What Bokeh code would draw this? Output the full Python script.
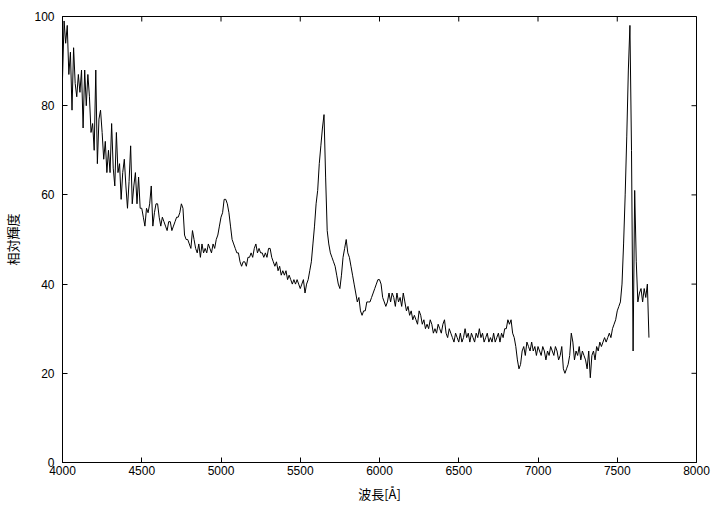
import math
from bokeh.plotting import figure
from bokeh.models import FixedTicker, LinearAxis, Range1d
from bokeh.embed import file_html
from bokeh.resources import INLINE

# --- data ---
wl_start = 4000
wl_step = 10
intensity = [
    86, 99, 94, 98, 87, 92, 79, 93, 85, 82,   # 4000
    87, 83, 88, 75, 88, 80, 87, 82, 74, 76,   # 4100
    70, 88, 67, 77, 79, 74, 68, 72, 65, 70,   # 4200
    65, 76, 66, 62, 74, 65, 67, 59, 65, 68,   # 4300
    62, 57, 63, 71, 58, 62, 65, 58, 64, 57,   # 4400
    57, 55, 53, 57, 56, 58, 62, 53, 56, 58,   # 4500
    58, 55, 53, 55, 54, 53, 52, 54, 54, 52,   # 4600
    53, 54, 55, 55, 56, 58, 57, 51, 50, 50,   # 4700
    49, 48, 52, 50, 48, 47, 49, 46, 49, 47,   # 4800
    48, 47, 49, 48, 47, 49, 48, 50, 51, 53,   # 4900
    55, 56, 59, 59, 58, 56, 53, 50, 49, 48,   # 5000
    47, 47, 45, 44, 45, 45, 44, 46, 46, 47,   # 5100
    46, 48, 49, 47, 48, 47, 47, 46, 47, 46,   # 5200
    48, 48, 46, 45, 44, 45, 43, 44, 42, 43,   # 5300
    42, 43, 41, 42, 41, 40, 41, 40, 41, 40,   # 5400
    39, 40, 41, 38, 40, 41, 43, 45, 49, 53,   # 5500
    58, 61, 67, 71, 75, 78, 64, 52, 49, 47,   # 5600
    46, 45, 44, 42, 40, 39, 42, 46, 48, 50,   # 5700
    47, 46, 44, 42, 40, 38, 36, 37, 34, 33,   # 5800
    34, 34, 36, 36, 36, 37, 38, 39, 40, 41,   # 5900
    41, 40, 37, 36, 35, 36, 38, 36, 38, 37,   # 6000
    35, 38, 36, 37, 35, 38, 36, 34, 35, 33,   # 6100
    34, 32, 33, 32, 31, 34, 33, 31, 32, 30,   # 6200
    31, 30, 32, 31, 29, 30, 29, 31, 30, 29,   # 6300
    31, 32, 29, 28, 30, 29, 28, 27, 29, 28,   # 6400
    27, 29, 27, 28, 30, 28, 29, 27, 29, 28,   # 6500
    27, 29, 28, 30, 28, 29, 27, 28, 29, 27,   # 6600
    28, 27, 29, 27, 28, 29, 27, 29, 28, 30,   # 6700
    30, 32, 31, 32, 29, 28, 26, 23, 21, 22,   # 6800
    25, 26, 24, 27, 26, 25, 27, 25, 26, 24,   # 6900
    26, 25, 24, 26, 25, 23, 25, 24, 26, 25,   # 7000
    24, 26, 25, 23, 24, 26, 21, 20, 21, 22,   # 7100
    24, 29, 27, 23, 25, 24, 26, 23, 25, 24,   # 7200
    23, 21, 25, 19, 24, 25, 23, 26, 25, 27,   # 7300
    26, 27, 28, 27, 28, 29, 28, 30, 31, 32,   # 7400
    34, 35, 36, 40, 49, 60, 73, 88, 98, 70,   # 7500
    25, 61, 45, 36, 38, 39, 36, 39, 37, 40,   # 7600
    28,                                       # 7700
]
wavelength = [wl_start + i * wl_step for i in range(len(intensity))]

x_min, x_max = 4000, 8000
y_min, y_max = 0, 100
x_ticks = [4000, 4500, 5000, 5500, 6000, 6500, 7000, 7500, 8000]
y_ticks = [0, 20, 40, 60, 80, 100]
x_label = "波長[Å]"
y_label = "相対輝度"

TICK_FONT = "Liberation Sans"
CJK_FONT = "Noto Sans CJK JP"

p = figure(width=721, height=505, output_backend="svg", toolbar_location=None,
           x_range=Range1d(x_min, x_max), y_range=Range1d(y_min, y_max),
           min_border_left=62, min_border_right=25, min_border_top=16,
           min_border_bottom=43, x_axis_location=None, y_axis_location=None)

p.background_fill_color = "white"
p.border_fill_color = "white"
p.outline_line_color = "black"
p.outline_line_width = 1
p.outline_line_alpha = 1
p.xgrid.visible = False
p.ygrid.visible = False

def style(ax, ticks):
    ax.ticker = FixedTicker(ticks=ticks)
    ax.minor_tick_line_color = None
    ax.major_tick_in = 5
    ax.major_tick_out = 0
    ax.major_tick_line_color = "black"
    ax.axis_line_color = "black"
    ax.major_label_text_font = TICK_FONT
    ax.major_label_text_font_size = "12px"
    ax.major_label_text_color = "black"
    ax.axis_label_text_font = CJK_FONT
    ax.axis_label_text_font_size = "13px"
    ax.axis_label_text_font_style = "normal"
    ax.axis_label_text_color = "black"

xb = LinearAxis(axis_label=x_label)
style(xb, x_ticks)
xb.major_label_standoff = 3
xb.axis_label_standoff = 6
p.add_layout(xb, "below")

yl = LinearAxis(axis_label=y_label)
style(yl, y_ticks)
yl.major_label_standoff = 8
yl.axis_label_standoff = 9
p.add_layout(yl, "left")

# inward tick marks on the top and right frame edges (half of each dash is clipped)
p.scatter(x_ticks, [y_max] * len(x_ticks), marker="dash", size=10,
          angle=math.pi / 2, line_color="black", line_width=1)
p.scatter([x_max] * len(y_ticks), y_ticks, marker="dash", size=10,
          line_color="black", line_width=1)

p.line(wavelength, intensity, line_color="black", line_width=1)

open("out.html", "w").write(file_html(p, INLINE))
